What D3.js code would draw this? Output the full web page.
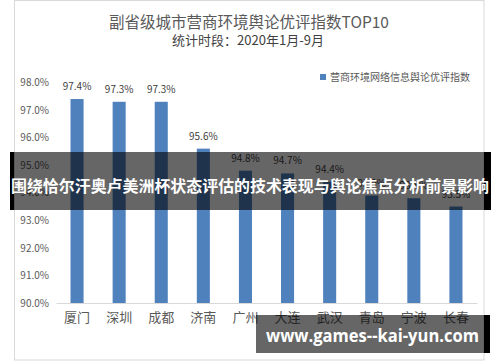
<!DOCTYPE html>
<html><head><meta charset="utf-8">
<script src="https://cdn.jsdelivr.net/npm/d3@7"></script>
<style>html,body{margin:0;padding:0;background:#fff;}svg{display:block;}</style>
</head><body>
<script>
const categories = ["厦门","深圳","成都","济南","广州","大连","武汉","青岛","宁波","长春"];
const values = [97.4, 97.3, 97.3, 95.6, 94.8, 94.7, 94.4, 93.9, 93.8, 93.5];
const yTicks = [90, 91, 92, 93, 94, 95, 96, 97, 98];
const title = "副省级城市营商环境舆论优评指数TOP10";
const subtitle = "统计时段：2020年1月-9月";
const seriesName = "营商环境网络信息舆论优评指数";
const bannerText = "围绕恰尔汗奥卢美洲杯状态评估的技术表现与舆论焦点分析前景影响";
const watermark = "www.games--kai-yun.com";

const W = 500, H = 362;
const font = "'Noto Sans CJK SC', 'Noto Sans', sans-serif";
const svg = d3.select("body").append("svg").attr("width", W).attr("height", H);

// card
svg.append("rect").attr("x", 14.5).attr("y", 0.5).attr("width", 469.5).attr("height", 359.5)
  .attr("fill", "#fff").attr("stroke", "#d9d9d9");

svg.append("text").attr("x", 249).attr("y", 28).attr("text-anchor", "middle")
  .attr("font-family", font).attr("font-size", 15.5).attr("fill", "#595959").text(title);
svg.append("text").attr("x", 248).attr("y", 45).attr("text-anchor", "middle")
  .attr("font-family", font).attr("font-size", 13).attr("fill", "#404040").text(subtitle);

// legend
svg.append("rect").attr("x", 320).attr("y", 74).attr("width", 6).attr("height", 6).attr("fill", "#4f81bd");
svg.append("text").attr("x", 330).attr("y", 81).attr("font-family", font).attr("font-size", 10)
  .attr("fill", "#595959").text(seriesName);

const x = d3.scaleBand().domain(categories).range([56, 477]).paddingInner(0.69).paddingOuter(0.345);
const y = d3.scaleLinear().domain([90, 98]).range([303, 82.5]);

// y axis labels
const yAxis = d3.axisLeft(y).tickValues(yTicks).tickSize(0).tickPadding(0)
  .tickFormat(d => d.toFixed(1) + "%");
const ya = svg.append("g").attr("transform", "translate(49,0)").call(yAxis);
ya.select(".domain").remove();
ya.selectAll("text").attr("font-family", font).attr("font-size", 10).attr("fill", "#595959");

// bars
svg.append("g").selectAll("rect").data(values).join("rect")
  .attr("x", (d, i) => x(categories[i])).attr("width", x.bandwidth())
  .attr("y", d => y(d)).attr("height", d => y(90) - y(d)).attr("fill", "#4f81bd");

// value labels
svg.append("g").selectAll("text").data(values).join("text")
  .attr("x", (d, i) => x(categories[i]) + x.bandwidth() / 2).attr("y", d => y(d) - 9)
  .attr("text-anchor", "middle").attr("font-family", font).attr("font-size", 10)
  .attr("fill", "#404040").text(d => d.toFixed(1) + "%");

// x axis
const xAxis = d3.axisBottom(x).tickSize(0).tickPadding(10);
const xa = svg.append("g").attr("transform", "translate(0,303)").call(xAxis);
xa.select(".domain").attr("stroke", "#d9d9d9").attr("stroke-width", 1.2);
xa.selectAll("text").attr("font-family", font).attr("font-size", 13).attr("fill", "#595959");

// banner overlay
svg.append("rect").attr("x", 10).attr("y", 152).attr("width", 481).attr("height", 58).attr("fill", "rgba(0,0,0,0.6)");
svg.append("rect").attr("x", 10).attr("y", 152).attr("width", 4).attr("height", 58).attr("fill", "#000");
svg.append("rect").attr("x", 484).attr("y", 152).attr("width", 7).attr("height", 58).attr("fill", "#000");
svg.append("text").attr("x", 250).attr("y", 192).attr("text-anchor", "middle")
  .attr("font-family", font).attr("font-weight", "bold").attr("font-size", 15.4)
  .attr("textLength", 478).attr("lengthAdjust", "spacingAndGlyphs")
  .attr("fill", "#fff").text(bannerText);

// watermark
svg.append("rect").attr("x", 256).attr("y", 315).attr("width", 234).attr("height", 38).attr("fill", "rgba(0,0,0,0.6)");
svg.append("rect").attr("x", 484).attr("y", 315).attr("width", 6).attr("height", 38).attr("fill", "#000");
svg.append("text").attr("x", 266).attr("y", 341.5)
  .attr("font-family", "'Open Sans', 'DejaVu Sans', sans-serif").attr("font-weight", "bold").attr("font-size", 17)
  .attr("textLength", 213).attr("lengthAdjust", "spacingAndGlyphs")
  .attr("fill", "#fff").text(watermark);
</script>
</body></html>
